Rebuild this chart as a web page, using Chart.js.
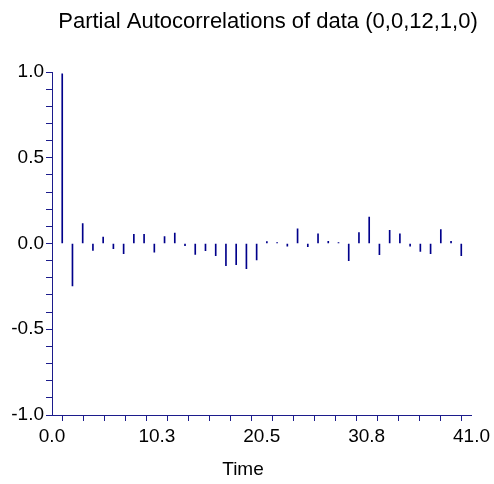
<!DOCTYPE html>
<html>
<head>
<meta charset="utf-8">
<script src="https://cdn.jsdelivr.net/npm/chart.js@4.4.0/dist/chart.umd.min.js"></script>
<style>
html, body { margin: 0; padding: 0; background: #fff; }
#wrap { width: 494px; height: 484px; }
</style>
</head>
<body>
<div id="wrap"><canvas id="pacfChart"></canvas></div>
<script>
// dados
const titulo = 'Partial Autocorrelations of data (0,0,12,1,0)';
const tituloX = 'Time';
const lags = [1, 2, 3, 4, 5, 6, 7, 8, 9, 10, 11, 12, 13, 14, 15, 16, 17, 18, 19, 20,
              21, 22, 23, 24, 25, 26, 27, 28, 29, 30, 31, 32, 33, 34, 35, 36, 37, 38, 39, 40];
const pacf = [0.99, -0.248, 0.116, -0.04, 0.038, -0.03, -0.059, 0.053, 0.053, -0.051,
              0.04, 0.061, -0.013, -0.063, -0.042, -0.071, -0.129, -0.123, -0.147, -0.096,
              0.011, 0.005, -0.015, 0.086, -0.018, 0.057, 0.013, 0.006, -0.1, 0.063,
              0.154, -0.065, 0.077, 0.056, -0.015, -0.046, -0.059, 0.081, 0.013, -0.071];
const xMajor = [0, 10.25, 20.5, 30.75, 41];
const xLabels = ['0.0', '10.3', '20.5', '30.8', '41.0'];
const yMajor = [-1, -0.5, 0, 0.5, 1];
const yLabels = ['-1.0', '-0.5', '0.0', '0.5', '1.0'];

const corEixo = '#1c1c8c';
const corBarra = '#00008b';
const fonte = '"Liberation Sans", Arial, sans-serif';

// ticks menores: 5 divisoes entre cada tick maior
function ticksComMenores(maiores) {
    const out = [];
    for (let i = 0; i < maiores.length - 1; i++) {
        const passo = (maiores[i + 1] - maiores[i]) / 5;
        for (let j = 0; j < 5; j++) out.push(maiores[i] + passo * j);
    }
    out.push(maiores[maiores.length - 1]);
    return out;
}

function rotulo(maiores, textos, v) {
    const idx = maiores.findIndex(m => Math.abs(m - v) < 1e-6);
    return idx >= 0 ? textos[idx] : '';
}

const textosPlugin = {
    id: 'textos',
    afterDraw(chart) {
        const ctx = chart.ctx;
        ctx.save();
        ctx.fillStyle = '#000';
        ctx.textAlign = 'center';
        ctx.textBaseline = 'middle';
        ctx.font = '22px ' + fonte;
        ctx.fillText(titulo, 268, 22);
        ctx.font = '19px ' + fonte;
        ctx.fillText(tituloX, 243, 470);
        ctx.restore();
    }
};

const ctx = document.getElementById('pacfChart').getContext('2d');
const chart = new Chart(ctx, {
    type: 'bar',
    data: {
        datasets: [{
            label: 'PACF',
            data: lags.map((l, i) => ({ x: l, y: [0, pacf[i]] })),
            backgroundColor: corBarra,
            borderWidth: 0,
            barThickness: 1,
            grouped: false
        }]
    },
    options: {
        responsive: true,
        maintainAspectRatio: false,
        animation: false,
        layout: { padding: { top: 72, right: 19, left: 0, bottom: 0 } },
        plugins: { legend: { display: false }, tooltip: { enabled: false }, title: { display: false } },
        scales: {
            x: {
                type: 'linear',
                min: 0,
                max: 41,
                offset: false,
                afterBuildTicks: s => { s.ticks = ticksComMenores(xMajor).map(v => ({ value: v })); },
                afterFit: s => { s.height = 69; },
                ticks: {
                    autoSkip: false,
                    maxRotation: 0,
                    color: '#000',
                    font: { family: fonte, size: 19 },
                    padding: 4,
                    callback: v => rotulo(xMajor, xLabels, v)
                },
                grid: { drawOnChartArea: false, drawTicks: true, tickLength: 6, color: corEixo },
                border: { color: corEixo, width: 1 }
            },
            y: {
                min: -1,
                max: 1,
                afterBuildTicks: s => { s.ticks = ticksComMenores(yMajor).map(v => ({ value: v })); },
                afterFit: s => { s.width = 52; },
                ticks: {
                    autoSkip: false,
                    color: '#000',
                    font: { family: fonte, size: 19 },
                    padding: 2,
                    callback: v => rotulo(yMajor, yLabels, v)
                },
                grid: { drawOnChartArea: false, drawTicks: true, tickLength: 6, color: corEixo },
                border: { color: corEixo, width: 1 }
            }
        }
    },
    plugins: [textosPlugin]
});
</script>
</body>
</html>
